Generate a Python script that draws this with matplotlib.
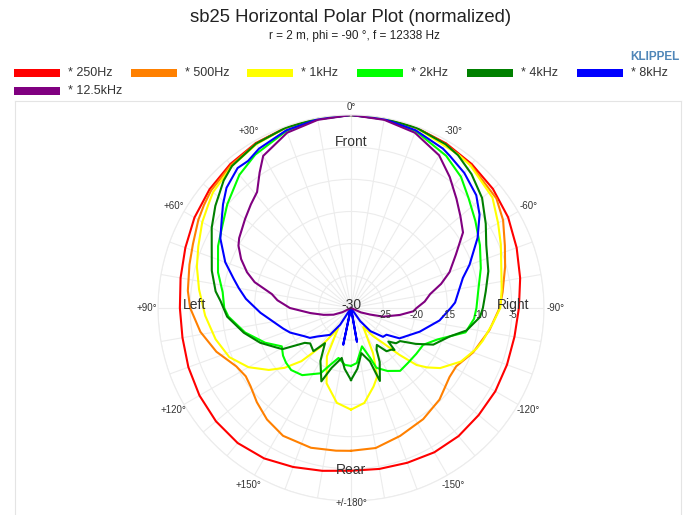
import numpy as np
import matplotlib
matplotlib.use("Agg")
import matplotlib.pyplot as plt
from matplotlib.patches import Rectangle
from matplotlib.lines import Line2D

plt.rcParams['font.family'] = ['Liberation Sans', 'DejaVu Sans']

# polar data: angle in degrees (+ = left), level in dB (normalized)
ang_250 = [-180, -170, -160, -150, -140, -130, -120, -110, -100, -90, -80, -70, -60, -50, -40, -30, -20, -10,
           0, 10, 20, 30, 40, 50, 60, 70, 80, 90, 100, 110, 120, 130, 140, 150, 160, 170, 180]
db_250 = [-4.7, -4.6, -4.4, -4.1, -4.0, -4.1, -4.1, -4.2, -4.2, -3.9, -3.3, -2.6, -1.8, -1.2, -0.8, -0.45, -0.2, -0.05,
          0, -0.05, -0.2, -0.4, -0.8, -1.3, -1.9, -2.6, -3.1, -3.4, -3.4, -3.1, -2.8, -2.6, -2.6, -3.0, -3.7, -4.3, -4.7]

ang_500 = [-180, -170, -159, -147, -136, -125, -119, -110, -99, -90, -84, -75, -68, -60, -53, -40, -30, -20, -10,
           0, 10, 20, 30, 40, 50, 55, 60, 68, 75, 84, 90, 99, 108, 117, 123, 128, 135, 143, 152, 164, 174, 180]
db_500 = [-7.8, -7.9, -8.7, -9.4, -10.2, -11.3, -11.3, -9.8, -8.2, -6.9, -6.3, -5.2, -4.2, -2.7, -1.7, -1.0, -0.6, -0.2, -0.05,
          0, -0.05, -0.2, -0.5, -1.0, -1.6, -2.1, -2.6, -3.5, -4.0, -4.5, -5.0, -6.3, -8.0, -10.0, -10.5, -10.2, -9.3, -8.3, -7.5, -7.4, -7.7, -7.8]

ang_1k = [-180, -172, -164, -159, -154, -147, -142, -137.5, -134, -131, -128, -124, -116, -108, -104, -96, -90, -83, -67, -60, -52, -40, -35, -20, -10,
          0, 10, 20, 30, 40, 50, 54, 60, 68, 75, 83, 93, 103, 112, 120, 127, 132, 137, 142, 147.5, 153.5, 162, 171.5, 180]
db_1k = [-14.2, -15.1, -17.3, -18.6, -22.2, -26.5, -24.5, -22.6, -19.5, -16.5, -15.0, -13.3, -11.0, -9.5, -8.9, -7.8, -6.8, -6.4, -4.7, -3.6, -2.1, -1.1, -0.9, -0.2, -0.05,
         0, -0.05, -0.2, -0.6, -1.2, -2.0, -2.6, -3.3, -4.4, -5.2, -6.2, -7.3, -8.4, -9.6, -11.6, -14.0, -16.1, -18.7, -22.3, -26.3, -21.6, -17.7, -15.1, -14.2]

ang_2k = [-180, -174, -164, -159, -157, -150, -142, -134, -125, -117, -110, -102, -95, -90, -83, -73, -64, -55, -47, -40, -32, -20, -10,
          0, 10, 20, 32, 40, 50, 57, 65, 75, 83, 90, 94, 103, 112, 119, 125, 130, 136, 144, 155, 160, 166, 174, 180]
db_2k = [-21.0, -21.4, -23.8, -21.7, -19.9, -18.7, -17.6, -17.7, -17.6, -17.4, -15.7, -11.8, -10.8, -10.5, -10.1, -8.9, -7.7, -6.4, -5.0, -3.4, -2.1, -0.7, -0.2,
         0, -0.2, -0.7, -1.9, -3.0, -4.9, -6.2, -7.2, -8.6, -9.9, -10.3, -10.9, -13.1, -15.6, -17.7, -17.1, -16.8, -16.6, -17.1, -18.8, -20.6, -22.0, -21.1, -21.0]

ang_4k = [-180, -174, -167, -160.5, -158.4, -152, -148.5, -145, -140.6, -136, -134, -132, -128, -124, -119, -114, -106, -101, -94, -90, -83, -75, -65, -58, -50, -42, -35, -30, -20, -10,
          0, 10, 20, 30, 40, 45, 53, 60, 66, 75, 83, 87, 94, 103, 111, 118, 121, 127, 131, 139, 143.5, 150, 158, 162, 169.5, 174, 180]
db_4k = [-18.8, -20.5, -22.8, -21.2, -17.8, -20.5, -22.4, -23.0, -21.3, -21.0, -20.6, -22.2, -21.1, -20.8, -18.5, -16.0, -14.0, -11.7, -9.9, -9.5, -8.9, -7.9, -6.8, -5.3, -3.4, -2.0, -1.0, -0.6, -0.2, -0.05,
         0, -0.05, -0.2, -0.5, -1.2, -2.0, -3.6, -5.0, -6.3, -7.6, -8.8, -9.7, -10.7, -12.9, -14.9, -16.9, -17.6, -21.0, -21.6, -21.1, -23.2, -20.5, -17.7, -20.2, -22.1, -20.5, -18.8]

ang_8k = [-180, -173, -170, -167, -150, -145, -140, -132, -127, -122, -109, -98, -90, -87, -75, -70, -61, -54, -48, -40, -33, -30, -20, -10,
          0, 10, 20, 30, 35, 39, 46, 51, 55, 62, 70, 76, 80, 85, 93, 107, 112, 121, 126, 130, 142, 147, 152, 165, 168, 171, 180]
db_8k = [-31, -31, -24.7, -31, -31, -27.5, -25.3, -23.3, -23.1, -21.1, -18.7, -16.1, -14.5, -13.8, -12.0, -10.4, -7.5, -5.3, -3.8, -2.6, -1.8, -1.4, -0.6, -0.2,
         0, -0.2, -0.6, -1.4, -2.1, -2.0, -3.1, -4.4, -5.5, -7.0, -9.2, -11.2, -12.3, -13.6, -15.9, -19.0, -19.8, -21.5, -22.1, -23.1, -24.7, -26.9, -31, -31, -24.2, -31, -31]

ang_12k5 = [-180, -125, -120, -114, -109, -105, -98, -93, -90, -85, -80, -75, -70, -63, -56, -50, -44, -37, -30, -20, -10,
            0, 10, 20, 30, 34, 39, 44, 50, 58, 61, 66, 71, 75, 80, 84, 90, 97, 104, 111, 116, 120, 125, 180]
db_12k5 = [-31, -31, -30, -28.3, -26.9, -24.8, -22.3, -20.3, -19.8, -18.5, -17.5, -15.5, -13.7, -11.7, -9.0, -7.8, -6.4, -4.5, -2.6, -1.0, -0.3,
           0, -0.3, -1.0, -2.7, -4.6, -6.8, -7.6, -8.5, -9.5, -10.0, -11.3, -12.9, -14.5, -17.5, -18.5, -20.5, -23.6, -25.6, -27.1, -28.5, -30, -31, -31]

series_labels = ['* 250Hz', '* 500Hz', '* 1kHz', '* 2kHz', '* 4kHz', '* 8kHz', '* 12.5kHz']
series_colors = ['#ff0000', '#ff8000', '#ffff00', '#00ff00', '#008000', '#0000ff', '#800080']
series = [(ang_250, db_250), (ang_500, db_500), (ang_1k, db_1k), (ang_2k, db_2k),
          (ang_4k, db_4k), (ang_8k, db_8k), (ang_12k5, db_12k5)]

angle_labels = {0: '0°', 30: '+30°', 60: '+60°', 90: '+90°', 120: '+120°', 150: '+150°', 180: '+/-180°',
                -150: '-150°', -120: '-120°', -90: '-90°', -60: '-60°', -30: '-30°'}
r_ticks = [-25, -20, -15, -10, -5]

W, H = 697, 515
fig = plt.figure(figsize=(W / 100, H / 100), dpi=100)


def fx(x):
    return x / W


def fy(y):
    return 1 - y / H


txt_col = '#333333'

# title block
fig.text(fx(351), fy(17), 'sb25 Horizontal Polar Plot (normalized)', ha='center', va='center',
         fontsize=13.3, color='#222222')
fig.text(fx(354), fy(36), 'r = 2 m, phi = -90 °, f = 12338 Hz', ha='center', va='center',
         fontsize=8.5, color='#222222')
fig.text(fx(655), fy(57), 'KLIPPEL', ha='center', va='center', fontsize=8.5,
         fontweight='bold', color='#4f86b8')

# legend (flow layout like the original)
leg_x = [14, 131, 247, 357, 467, 577, 14]
leg_y = [73, 73, 73, 73, 73, 73, 91]
for lbl, col, x0, y0 in zip(series_labels, series_colors, leg_x, leg_y):
    fig.patches.append(Rectangle((fx(x0), fy(y0 + 4)), 46 / W, 8 / H, transform=fig.transFigure,
                                 facecolor=col, edgecolor='none'))
    fig.text(fx(x0 + 54), fy(y0), lbl, ha='left', va='center', fontsize=9, color=txt_col)

# light frame of chart area
frame_col = '#e4e4e4'
fig.lines.append(Line2D([fx(15), fx(681)], [fy(101), fy(101)], transform=fig.transFigure, color=frame_col, lw=0.8))
fig.lines.append(Line2D([fx(15), fx(15)], [fy(101), 0], transform=fig.transFigure, color=frame_col, lw=0.8))
fig.lines.append(Line2D([fx(681), fx(681)], [fy(101), 0], transform=fig.transFigure, color=frame_col, lw=0.8))

# polar axes: center (351, 308), radius 193 px
R = 193
ax = fig.add_axes([fx(351 - R), 1 - (308 + R) / H, 2 * R / W, 2 * R / H], projection='polar')
ax.set_theta_zero_location('N')
ax.set_theta_direction(1)
ax.set_rlim(-30, 0)
ax.set_yticks(r_ticks + [0])
ax.set_yticklabels([])
ax.set_xticks(np.deg2rad(np.arange(0, 360, 10)))
ax.set_xticklabels([])
ax.grid(True, color='#ececec', lw=0.8)
ax.spines['polar'].set_color('#ececec')
ax.spines['polar'].set_linewidth(0.8)
ax.set_facecolor('white')

for (a, d), col in zip(series, series_colors):
    th = np.deg2rad(np.array(a, dtype=float))
    rr = np.clip(np.array(d, dtype=float), -30, 0)
    ax.plot(th, rr, color=col, lw=1.5, solid_joinstyle='round')

# angle labels just outside the circle
for a, lbl in angle_labels.items():
    fr = 1.06
    if a == 0:
        fr = 1.04
    elif a == 180:
        fr = 1.01
    ax.text(np.deg2rad(a), -30 + 30 * fr, lbl, ha='center', va='center', fontsize=7, color=txt_col)

# radial labels along the right horizontal
for rt in r_ticks:
    ax.annotate(str(rt), xy=(np.deg2rad(-90), rt), xytext=(1, -5), textcoords='offset points',
                ha='center', va='center', fontsize=7, color=txt_col)

# orientation labels
ax.text(0.5, 0.929, 'Front', transform=ax.transAxes, ha='center', va='center', fontsize=10, color=txt_col)
ax.text(0.5, 0.081, 'Rear', transform=ax.transAxes, ha='center', va='center', fontsize=10, color=txt_col)
ax.text(0.094, 0.508, 'Left', transform=ax.transAxes, ha='center', va='center', fontsize=10, color=txt_col)
ax.text(0.921, 0.508, 'Right', transform=ax.transAxes, ha='center', va='center', fontsize=10, color=txt_col)
ax.text(0.5, 0.508, '-30', transform=ax.transAxes, ha='center', va='center', fontsize=10, color=txt_col)

fig.savefig('out.png', dpi=100, facecolor='white')
